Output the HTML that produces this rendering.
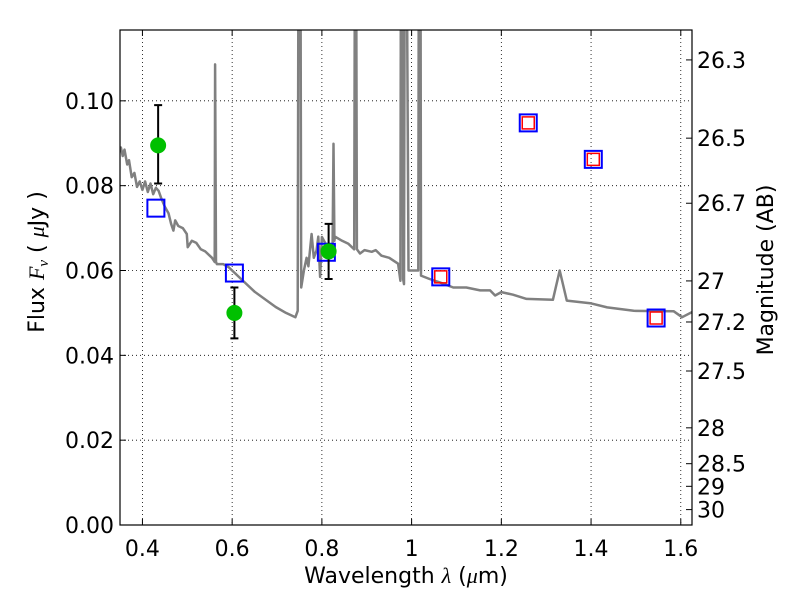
<!DOCTYPE html>
<html><head><meta charset="utf-8">
<style>
body{margin:0;background:#fff;}
svg text{font-family:"DejaVu Sans","Liberation Sans",sans-serif;fill:#000;}
</style></head>
<body>
<svg id="chart" width="800" height="600" viewBox="0 0 800 600" xmlns="http://www.w3.org/2000/svg">
<defs><clipPath id="pc"><rect x="120" y="30" width="572" height="495"/></clipPath></defs>
<g id="grid"></g>
<g id="spec" clip-path="url(#pc)"></g>
<g id="marks"></g>
<rect x="120" y="30" width="572" height="495" fill="none" stroke="#000" stroke-width="1.2"/>
<g id="axes"></g>
<text x="406" y="583" font-size="22" text-anchor="middle">Wavelength  <tspan font-style="italic" font-family="Liberation Serif">λ</tspan> (<tspan font-style="italic" font-family="Liberation Serif">μ</tspan>m)</text>
<text transform="translate(44,262) rotate(-90)" font-size="22" text-anchor="middle">Flux  <tspan font-style="italic" font-family="Liberation Serif">F<tspan font-size="15" dy="4">ν</tspan></tspan><tspan dy="-4">  (  </tspan><tspan font-style="italic" font-family="Liberation Serif">μ</tspan>Jy )</text>
<text transform="translate(773,270) rotate(-90)" font-size="22" text-anchor="middle">Magnitude (AB)</text>
</svg>
<script>
const xTicks=[0.4,0.6,0.8,1.0,1.2,1.4,1.6];
const xTickLabels=["0.4","0.6","0.8","1","1.2","1.4","1.6"];
const yTicks=[0,0.02,0.04,0.06,0.08,0.10];
const yTickLabels=["0.00","0.02","0.04","0.06","0.08","0.10"];
const magTicks=[26.3,26.5,26.7,27,27.2,27.5,28,28.5,29,30];
const magTickLabels=["26.3","26.5","26.7","27","27.2","27.5","28","28.5","29","30"];
const specWl=[0.350,0.352,0.356,0.36,0.366,0.37,0.376,0.382,0.388,0.394,0.40,0.406,0.412,0.418,0.424,0.43,0.436,0.442,0.45,0.458,0.464,0.469,0.473,0.48,0.49,0.499,0.501,0.51,0.52,0.53,0.54,0.555,0.561,0.562,0.564,0.566,0.58,0.592,0.62,0.65,0.697,0.72,0.741,0.746,0.749,0.751,0.754,0.76,0.766,0.77,0.777,0.782,0.788,0.792,0.796,0.80,0.81,0.824,0.826,0.828,0.829,0.845,0.859,0.872,0.875,0.878,0.885,0.895,0.911,0.92,0.933,0.95,0.97,0.975,0.977,0.979,0.981,0.983,0.986,0.993,1.015,1.017,1.019,1.021,1.04,1.063,1.093,1.122,1.153,1.175,1.186,1.20,1.226,1.256,1.315,1.33,1.346,1.398,1.436,1.495,1.584,1.603,1.625];
const specFlux=[0.088,0.089,0.087,0.0885,0.085,0.086,0.082,0.083,0.0797,0.081,0.079,0.081,0.0785,0.0805,0.078,0.0795,0.0788,0.077,0.075,0.0735,0.071,0.0694,0.0718,0.0705,0.070,0.0686,0.0655,0.067,0.0665,0.065,0.0645,0.063,0.062,0.1086,0.062,0.0615,0.0615,0.0608,0.058,0.055,0.0514,0.050,0.049,0.0505,0.20,0.20,0.056,0.060,0.063,0.061,0.0686,0.063,0.0647,0.068,0.0585,0.0679,0.066,0.066,0.0899,0.067,0.068,0.067,0.0663,0.065,0.20,0.065,0.064,0.0648,0.0644,0.0648,0.0635,0.063,0.0616,0.0576,0.20,0.20,0.058,0.0568,0.20,0.06,0.06,0.20,0.20,0.0588,0.058,0.0572,0.056,0.056,0.0553,0.0553,0.0541,0.0549,0.0543,0.0533,0.0531,0.06,0.0529,0.0523,0.0513,0.0505,0.0504,0.049,0.0502];
const obsWl=[0.435,0.605,0.815];
const obsFlux=[0.0895,0.050,0.0645];
const obsLo=[0.0805,0.044,0.058];
const obsHi=[0.099,0.056,0.071];
const modelWl=[0.43,0.605,0.81,1.065,1.26,1.405,1.545];
const modelFlux=[0.0747,0.0594,0.0643,0.0585,0.0948,0.0862,0.0488];
const redWl=[1.065,1.26,1.405,1.545];
const redFlux=[0.0585,0.0948,0.0862,0.0488];

const NS="http://www.w3.org/2000/svg";
const X0=120,X1=692,Y0=525,Y1=30,xmin=0.35,xmax=1.625,ymin=0,ymax=0.1167;
const sx=v=>X0+(v-xmin)/(xmax-xmin)*(X1-X0);
const sy=v=>Y0-(v-ymin)/(ymax-ymin)*(Y0-Y1);
const magToFlux=m=>Math.pow(10,(23.9-m)/2.5);
function mk(tag,attrs,parent){const e=document.createElementNS(NS,tag);for(const k in attrs)e.setAttribute(k,attrs[k]);parent.appendChild(e);return e;}
const grid=document.getElementById('grid'),axes=document.getElementById('axes'),spec=document.getElementById('spec'),marks=document.getElementById('marks');

xTicks.forEach((t,i)=>{const x=sx(t);
 let g=mk('line',{x1:x,x2:x,y1:Y1,y2:Y0,stroke:'#000','stroke-width':0.8,'stroke-dasharray':'1,3'},grid);
 
 let a=mk('line',{x1:x,x2:x,y1:Y0,y2:Y0-6,stroke:'#000'},axes);
 
 let b=mk('line',{x1:x,x2:x,y1:Y1,y2:Y1+6,stroke:'#000'},axes);
 
 let tx=mk('text',{x:x,y:556,'font-size':22,'text-anchor':'middle'},axes);tx.textContent=xTickLabels[i];
 
});
yTicks.forEach((t,i)=>{const y=sy(t);
 if(t>0){let g=mk('line',{x1:X0,x2:X1,y1:y,y2:y,stroke:'#000','stroke-width':0.8,'stroke-dasharray':'1,3'},grid);
 }
 let a=mk('line',{x1:X0,x2:X0+6,y1:y,y2:y,stroke:'#000'},axes);
 
 let tx=mk('text',{x:114,y:y+8,'font-size':22,'text-anchor':'end'},axes);tx.textContent=yTickLabels[i];
 
});
magTicks.forEach((m,i)=>{const y=sy(magToFlux(m));
 let a=mk('line',{x1:X1,x2:X1-6,y1:y,y2:y,stroke:'#000'},axes);
 
 let tx=mk('text',{x:697,y:y+8,'font-size':22,'text-anchor':'start'},axes);tx.textContent=magTickLabels[i];
 
});
let d=specWl.map((w,i)=>(i?'L':'M')+sx(w).toFixed(1)+','+sy(specFlux[i]).toFixed(1)).join('');
let p=mk('path',{d:d,fill:'none',stroke:'#808080','stroke-width':2.5,'stroke-linejoin':'round'},spec);


modelWl.forEach((w,i)=>{const x=sx(w),y=sy(modelFlux[i]);
 let r=mk('rect',{x:x-8.5,y:y-8.5,width:17,height:17,fill:'none',stroke:'#0000ff','stroke-width':2},marks);
 
});
redWl.forEach((w,i)=>{const x=sx(w),y=sy(redFlux[i]);
 let r=mk('rect',{x:x-6,y:y-6,width:12,height:12,fill:'none',stroke:'#ff0000','stroke-width':1.5},marks);
 
});
obsWl.forEach((w,i)=>{const x=sx(w);
 let e=mk('path',{d:`M${x},${sy(obsLo[i])}V${sy(obsHi[i])}M${x-4},${sy(obsLo[i])}h8M${x-4},${sy(obsHi[i])}h8`,stroke:'#000','stroke-width':2,fill:'none'},marks);
 
 let c=mk('circle',{cx:x,cy:sy(obsFlux[i]),r:8,fill:'#00c000'},marks);
 
});
</script>
</body></html>
